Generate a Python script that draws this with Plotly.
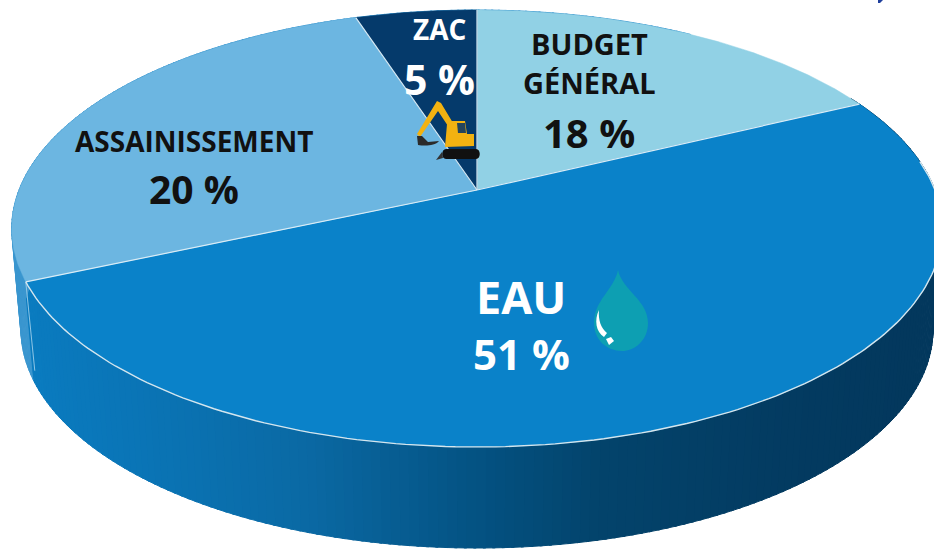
import numpy as np
import plotly.graph_objects as go

# Data
categories = ["BUDGET GÉNÉRAL", "EAU", "ASSAINISSEMENT", "ZAC"]
drawn_shares = [17.8, 50.6, 26.6, 5]    # angular size of the drawn slices
slice_colors = ["#91d1e5", "#0a82c9", "#6cb6e1", "#053a6b"]

W, H = 934, 549
APEX_X, APEX_Y = 477, 190
KP, BP, AP = 0.1763, 211.7, 458.0
DEPTH, BASE_SCALE = 101, 0.98
STRIP = "#3a96cf"
WALL_STOPS_X = [0, 120, 300, 480, 600, 800, 934]
WALL_STOPS_RGB = [(11, 125, 194), (10, 118, 184), (11, 106, 165), (4, 82, 130),
                  (3, 68, 108), (4, 59, 97), (3, 56, 93)]


def project(deg, scale=1.0, dy=0.0):
    t = np.radians(deg)
    u, v = np.sin(t), -np.cos(t)
    w = 1 - KP * v
    return APEX_X + scale * AP * u / w, APEX_Y + dy + BP * v / w


def wall_color(x):
    c = [np.interp(x, WALL_STOPS_X, [s[i] for s in WALL_STOPS_RGB]) for i in range(3)]
    return "rgb(%d,%d,%d)" % tuple(c)


cum = np.concatenate([[0], np.cumsum(drawn_shares)]) * 3.6
fig = go.Figure()

# Side wall, drawn as small bands so that the shading runs left to right
wall_start, wall_end = cum[1] - 2, cum[3] + 50
edges = np.arange(wall_start, wall_end + 1, 1.0)
for d0, d1 in zip(edges[:-1], edges[1:]):
    d = np.linspace(d0, d1 + 0.3, 3)
    xt, yt = project(d)
    xb, yb = project(d[::-1], BASE_SCALE, DEPTH)
    col = STRIP if d0 >= cum[2] else wall_color(xt.mean())
    fig.add_trace(go.Scatter(x=np.r_[xt, xb], y=np.r_[yt, yb], mode="lines", fill="toself",
                             fillcolor=col, line=dict(color=col, width=1), hoverinfo="skip"))

# Divider on the wall at the EAU / ASSAINISSEMENT boundary
x0, y0 = project(cum[2])
x1, y1 = project(cum[2], BASE_SCALE, DEPTH * 0.88)
fig.add_trace(go.Scatter(x=[x0, x1], y=[y0, y1], mode="lines",
                         line=dict(color="#8fc6e6", width=1), hoverinfo="skip"))

# Top face of the pie
for i, name in enumerate(categories):
    d = np.linspace(cum[i], cum[i + 1], 140)
    xs, ys = project(d)
    fig.add_trace(go.Scatter(x=np.r_[APEX_X, xs, APEX_X], y=np.r_[APEX_Y, ys, APEX_Y],
                             mode="lines", fill="toself", fillcolor=slice_colors[i],
                             line=dict(color=slice_colors[i], width=0.5), name=name,
                             hoverinfo="name"))

# White dividers between the slices, and the rim of the EAU slice
for c in cum[:4]:
    xe, ye = project(c)
    fig.add_trace(go.Scatter(x=[APEX_X, xe], y=[APEX_Y, ye], mode="lines",
                             line=dict(color="#d9ecf6", width=1.2), hoverinfo="skip"))
d = np.linspace(cum[1] + 18, cum[2], 160)
xs, ys = project(d)
fig.add_trace(go.Scatter(x=xs, y=ys, mode="lines", line=dict(color="#d5e6ee", width=1.4),
                         hoverinfo="skip"))

FONT = "Open Sans"
labels = [
    ("ZAC", 439, 29, 28, "white"),
    ("5 %", 439, 79, 41, "white"),
    ("BUDGET", 589, 43, 29, "#111111"),
    ("GÉNÉRAL", 589, 82, 29, "#111111"),
    ("18 %", 589, 132, 40, "#111111"),
    ("ASSAINISSEMENT", 194, 141, 28, "#111111"),
    ("20 %", 194, 188, 39, "#111111"),
    ("EAU", 521, 296, 45, "white"),
    ("51 %", 521, 353, 42, "white"),
]
annotations = [dict(text=t, x=x, y=y, xref="x", yref="y", showarrow=False,
                    font=dict(family=FONT, size=s, color=c, weight=700),
                    xanchor="center", yanchor="middle") for t, x, y, s, c in labels]

YEL = "#f2b211"
shapes = [
    # water drop
    dict(type="path", path="M618,270 C622,290 648,300 648,323 C648,341 634,351 622,351 "
                           "C607,351 594,340 594,323 C594,300 614,290 618,270 Z",
         fillcolor="#0d9fb2", line=dict(width=0)),
    dict(type="path", path="M599,310 C594,320 596,332 604,337 L607,333 C601,328 598,320 599,310 Z",
         fillcolor="white", line=dict(width=0)),
    dict(type="path", path="M606,339 L611,337 L614,341 L609,345 Z", fillcolor="white", line=dict(width=0)),
    # excavator
    dict(type="path", path="M417,134 L437,101 L441,103 L456,128 L452,132 L438,111 L420,137 Z",
         fillcolor=YEL, line=dict(width=0)),
    dict(type="path", path="M417,136 L422,136 L428,142 L439,141 C435,146 425,146 418,145 Z",
         fillcolor="#2b2b2b", line=dict(width=0)),
    dict(type="path", path="M447,124 L452,121 L465,121 L467,134 L474,134 L474,146 L445,147 Z",
         fillcolor=YEL, line=dict(width=0)),
    dict(type="path", path="M457,123 L465,123 L466,133 L458,133 Z", fillcolor="#23445c", line=dict(width=0)),
    dict(type="path", path="M446,149 L476,149 C481,149 481,159 476,159 L446,159 C441,159 441,149 446,149 Z",
         fillcolor="#111111", line=dict(width=0)),
    dict(type="path", path="M436,160 L442,152 L443,158 Z", fillcolor="#333333", line=dict(width=0)),
    # tiny clipped mark at the top edge
    dict(type="path", path="M878,0 L883,0 L880,3 L878,3 Z", fillcolor="#1f3f9c", line=dict(width=0)),
]
for s in shapes:
    s.update(xref="x", yref="y")

fig.update_layout(
    width=W, height=H, autosize=False, showlegend=False,
    margin=dict(l=0, r=0, t=0, b=0),
    paper_bgcolor="white", plot_bgcolor="white",
    xaxis=dict(range=[0, W], visible=False, fixedrange=True),
    yaxis=dict(range=[H, 0], visible=False, fixedrange=True),
    annotations=annotations, shapes=shapes,
)
fig.write_html("out.html", config=dict(displayModeBar=False),
               post_script="document.body.style.margin='0';document.body.style.overflow='hidden';")
